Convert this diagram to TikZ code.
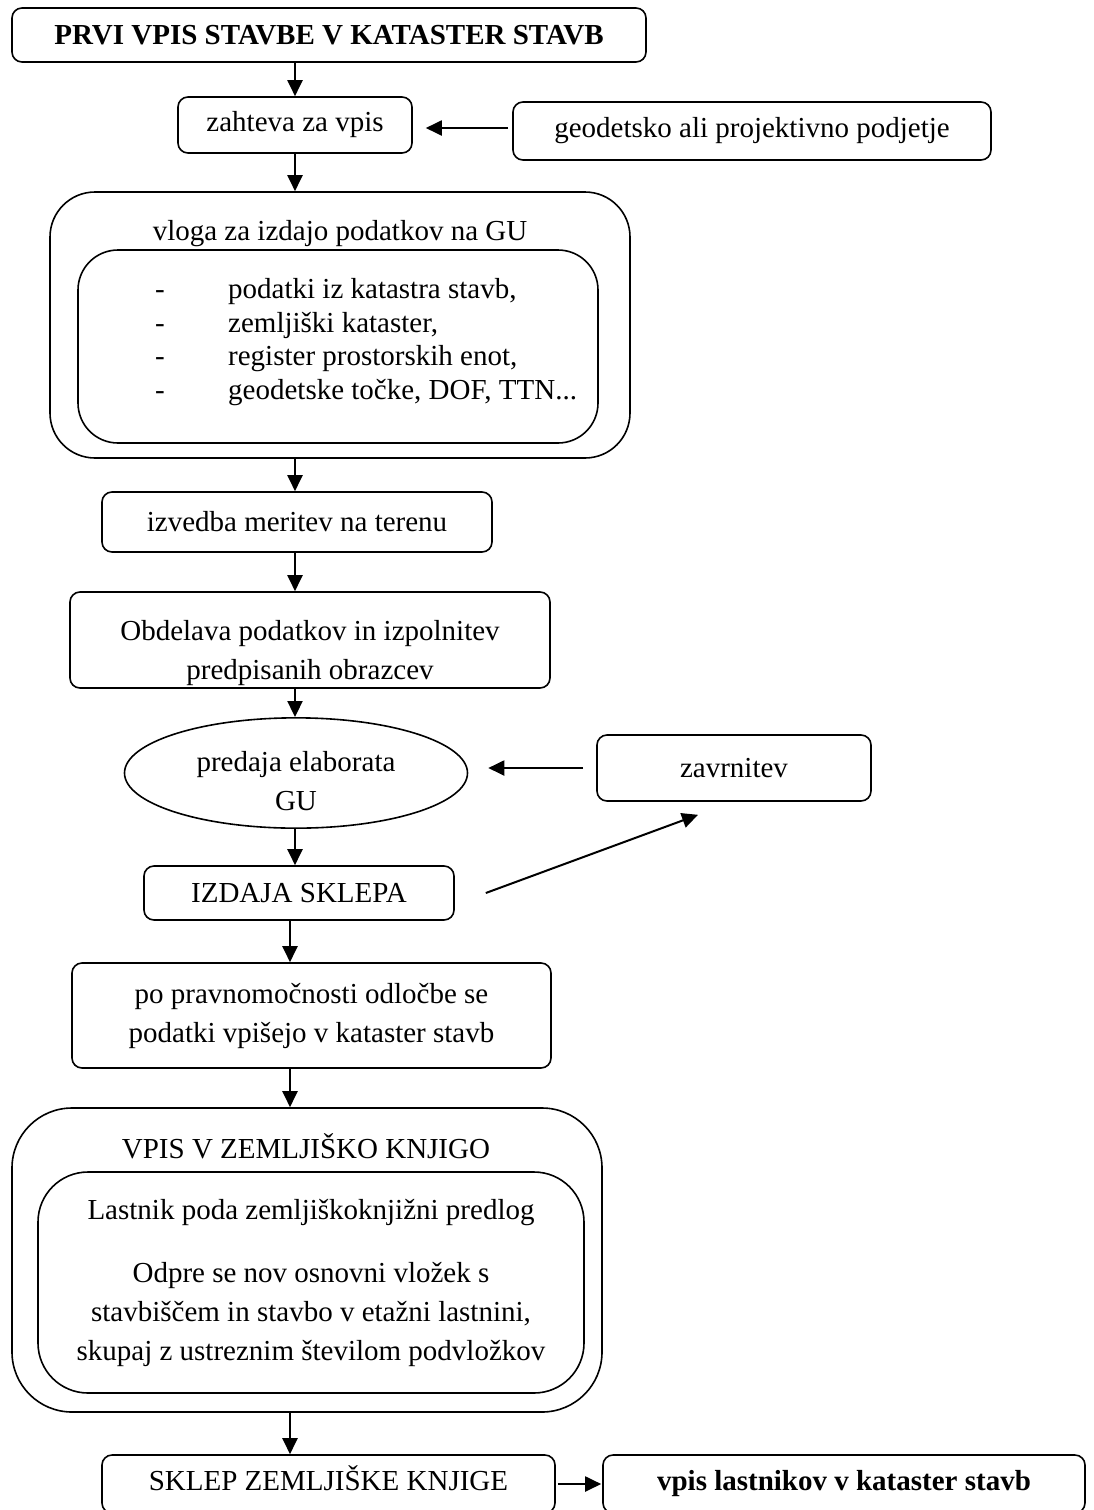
\documentclass[tikz,border=0pt]{standalone}
\usepackage{fontspec}
\setmainfont{Liberation Serif}
\usetikzlibrary{shapes.geometric,arrows.meta}

\tikzset{
  box/.style={draw, line width=1.6pt, rounded corners=10pt, inner sep=0pt, align=center,
    font=\fontsize{29}{39}\selectfont},
  bigbox/.style={box, rounded corners=45pt},
  txt/.style={inner sep=0pt, align=center, font=\fontsize{29}{39}\selectfont},
  arr/.style={line width=2pt, -{Triangle[length=16pt,width=15pt]}},
}

\begin{document}
\begin{tikzpicture}[x=1pt,y=-1pt]
  \useasboundingbox (0,0) rectangle (1093,1510);
  \coordinate (spine) at (295,0);
  \coordinate (spinelow) at (290,0);

  % zgornji del
  \node[box, minimum width=634, minimum height=54] (prvi) at (329,35) {\textbf{PRVI VPIS STAVBE V KATASTER STAVB}};
  \node[box, minimum width=234, minimum height=56] (zahteva) at (295,125) {zahteva za vpis};
  \node[box, minimum width=478, minimum height=58] (podjetje) at (752,131) {geodetsko ali projektivno podjetje};

  \node[bigbox, minimum width=580, minimum height=266] (vloga) at (340,325) {};
  \node[txt] (vlogatxt) at (340,234) {vloga za izdajo podatkov na GU};
  \node[bigbox, rounded corners=40pt, minimum width=520, minimum height=193] (podatki) at (338,346.5) {};
  \node[txt, align=left, anchor=west, font=\fontsize{29}{33.8}\selectfont] (seznam) at (155,342)
    {\makebox[73pt][l]{-}podatki iz katastra stavb,\\
     \makebox[73pt][l]{-}zemljiški kataster,\\
     \makebox[73pt][l]{-}register prostorskih enot,\\
     \makebox[73pt][l]{-}geodetske točke, DOF, TTN...};

  \node[box, minimum width=390, minimum height=60] (meritve) at (297,522) {izvedba meritev na terenu};
  \node[box, minimum width=480, minimum height=96] (obdelava) at (310,640)
    {\raisebox{-12pt}[\height][\depth]{\begin{tabular}{@{}c@{}}Obdelava podatkov in izpolnitev\\predpisanih obrazcev\end{tabular}}};

  \node[draw, ellipse, line width=1.6pt, inner sep=0pt, minimum width=343, minimum height=110,
    font=\fontsize{29}{39}\selectfont] (predaja) at (296,773)
    {\raisebox{-10pt}[\height][\depth]{\begin{tabular}{@{}c@{}}predaja elaborata\\GU\end{tabular}}};
  \node[box, minimum width=274, minimum height=66] (zavrnitev) at (734,768) {zavrnitev};
  \node[box, minimum width=310, minimum height=54] (sklep) at (299,893) {IZDAJA SKLEPA};
  \node[box, minimum width=479, minimum height=105] (vpiskat) at (311.5,1015.5)
    {po pravnomočnosti odločbe se\\podatki vpišejo v kataster stavb};

  % zemljiska knjiga
  \node[bigbox, rounded corners=60pt, minimum width=590, minimum height=304] (zk) at (307,1260) {};
  \node[txt] (zktxt) at (306,1146) {VPIS V ZEMLJIŠKO KNJIGO};
  \node[bigbox, rounded corners=50pt, minimum width=546, minimum height=221] (predlog) at (311,1282.5)
    {Lastnik poda zemljiškoknjižni predlog\\[24pt]
     Odpre se nov osnovni vložek s\\
     stavbiščem in stavbo v etažni lastnini,\\
     skupaj z ustreznim številom podvložkov};

  \node[box, minimum width=453, minimum height=58, text height=20pt, text depth=7pt] (sklepzk) at (328.5,1484) {SKLEP ZEMLJIŠKE KNJIGE};
  \node[box, minimum width=482, minimum height=58, text height=20pt, text depth=7pt] (lastniki) at (844,1484) {\textbf{vpis lastnikov v kataster stavb}};

  % puscice
  \draw[arr] (prvi.south -| spine) -- (zahteva.north -| spine);
  \draw[arr] ([xshift=-4pt,yshift=3pt]podjetje.west) -- ([xshift=13pt,yshift=-3pt]zahteva.east);
  \draw[arr] (zahteva.south -| spine) -- (vloga.north -| spine);
  \draw[arr] (vloga.south -| spine) -- (meritve.north -| spine);
  \draw[arr] (meritve.south -| spine) -- (obdelava.north -| spine);
  \draw[arr] (obdelava.south -| spine) -- (predaja.north -| spine);
  \draw[arr, shorten <=13pt, shorten >=20pt] (zavrnitev.west) -- (zavrnitev.west -| predaja.east);
  \draw[arr] (predaja.south -| spine) -- (sklep.north -| spine);
  \coordinate (zavtip) at ([xshift=-36pt,yshift=-13pt]zavrnitev.south);
  \draw[arr] ([xshift=31pt]sklep.east) -- (zavtip);
  \draw[arr] (sklep.south -| spinelow) -- (vpiskat.north -| spinelow);
  \draw[arr] (vpiskat.south -| spinelow) -- (zk.north -| spinelow);
  \draw[arr] (zk.south -| spinelow) -- (sklepzk.north -| spinelow);
  \draw[arr, shorten <=2pt, shorten >=1pt] (sklepzk.east) -- (lastniki.west);
\end{tikzpicture}
\end{document}
